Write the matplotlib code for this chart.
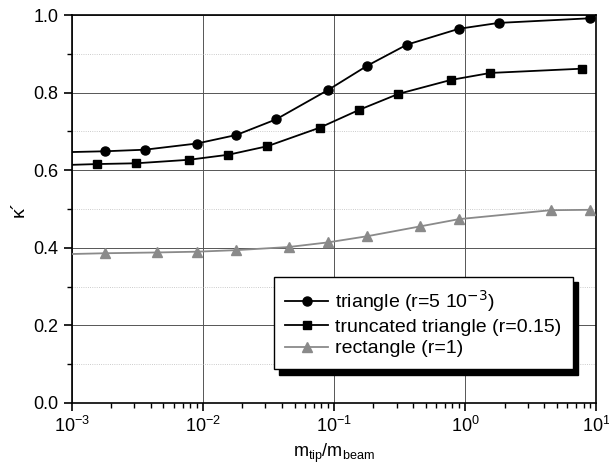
import matplotlib
matplotlib.use('Agg')
import matplotlib.pyplot as plt
from matplotlib.ticker import LogLocator, MultipleLocator, NullFormatter

plt.rcParams['font.family'] = ['Liberation Sans', 'DejaVu Sans']

# triangle (r=5e-3): circles
x_tri = [1.0e-3, 1.8e-3, 3.6e-3, 9e-3, 1.8e-2, 3.6e-2, 9e-2, 0.18, 0.36, 0.9, 1.8, 9.0]
y_tri = [0.647, 0.649, 0.653, 0.669, 0.691, 0.731, 0.807, 0.870, 0.924, 0.965, 0.980, 0.992]

# truncated triangle (r=0.15): squares
x_trunc = [1.0e-3, 1.56e-3, 3.1e-3, 7.8e-3, 1.56e-2, 3.1e-2, 7.8e-2, 0.156, 0.31, 0.78, 1.56, 7.8]
y_trunc = [0.614, 0.616, 0.618, 0.627, 0.640, 0.662, 0.710, 0.756, 0.797, 0.833, 0.851, 0.862]

# rectangle (r=1): triangles
x_rect = [1.0e-3, 1.8e-3, 4.5e-3, 9e-3, 1.8e-2, 4.5e-2, 9e-2, 0.18, 0.45, 0.9, 4.5, 9.0]
y_rect = [0.384, 0.386, 0.388, 0.390, 0.394, 0.402, 0.414, 0.430, 0.455, 0.474, 0.497, 0.498]

labels = ['triangle (r=5 10$^{-3}$)', 'truncated triangle (r=0.15)', 'rectangle (r=1)']

fig = plt.figure(figsize=(6.09, 4.74), dpi=100)
ax = fig.add_axes([0.118, 0.150, 0.861, 0.818])

gray = '#8a8a8a'
# first point of each series is the curve start at the axis edge (no marker)
ax.plot(x_tri, y_tri, color='black', lw=1.3, marker='o', ms=6.5, markevery=list(range(1, len(x_tri))), label=labels[0], zorder=3)
ax.plot(x_trunc, y_trunc, color='black', lw=1.3, marker='s', ms=6, markevery=list(range(1, len(x_trunc))), label=labels[1], zorder=3)
ax.plot(x_rect, y_rect, color=gray, lw=1.3, marker='^', ms=7, markevery=list(range(1, len(x_rect))), label=labels[2], zorder=3)

ax.set_xscale('log')
ax.set_xlim(1e-3, 10)
ax.set_ylim(0, 1.0)
ax.yaxis.set_major_locator(MultipleLocator(0.2))
ax.yaxis.set_minor_locator(MultipleLocator(0.1))
ax.xaxis.set_major_locator(LogLocator(base=10, numticks=10))
ax.xaxis.set_minor_locator(LogLocator(base=10, subs=range(2, 10), numticks=20))
ax.xaxis.set_minor_formatter(NullFormatter())

ax.grid(True, which='major', color='#555555', lw=0.7)
ax.grid(True, which='minor', axis='y', color='#bbbbbb', lw=0.6, linestyle=':')

ax.tick_params(which='both', direction='out', top=False, right=False, labelsize=13)
ax.tick_params(which='major', length=6, width=1.2)
ax.tick_params(which='minor', length=3.5, width=1)
for s in ax.spines.values():
    s.set_linewidth(1.2)

ax.set_ylabel('κ´', fontsize=14)
ax.set_xlabel('m$_{\\mathregular{tip}}$/m$_{\\mathregular{beam}}$', fontsize=13)

leg = ax.legend(loc='upper left', bbox_to_anchor=(0.385, 0.325), fontsize=14,
                fancybox=False, edgecolor='black', framealpha=1, handlelength=2.2,
                handletextpad=0.35, borderpad=0.6, labelspacing=0.2, borderaxespad=0,
                shadow={'color': 'black', 'alpha': 1, 'ox': 4, 'oy': -4})
leg.get_frame().set_linewidth(1.0)

fig.savefig('out.png', dpi=100)
